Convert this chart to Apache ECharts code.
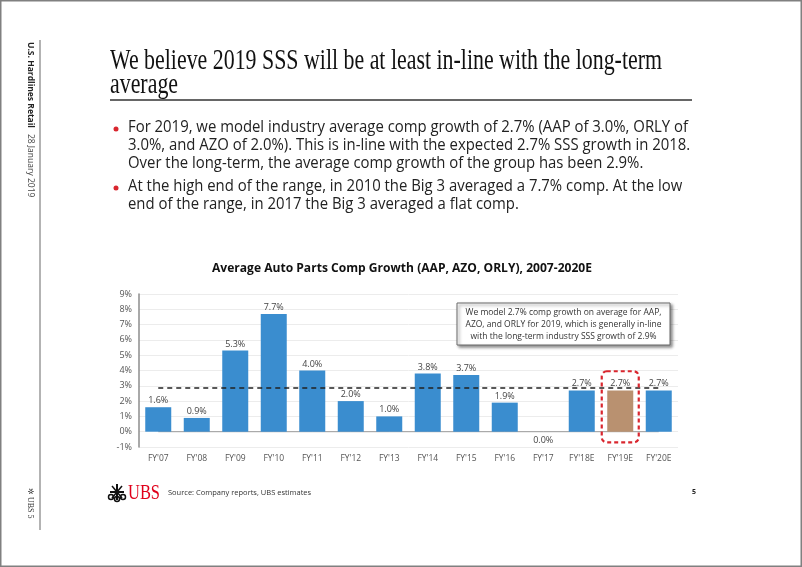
<!DOCTYPE html>
<html>
<head>
<meta charset="utf-8">
<script src="https://cdn.jsdelivr.net/npm/echarts@6/dist/echarts.min.js"></script>
<style>
html,body{margin:0;padding:0;background:#fff;}
#c{width:802px;height:567px;}
</style>
</head>
<body>
<div id="c"></div>
<script>
// ---- data ----
const categories = ["FY'07","FY'08","FY'09","FY'10","FY'11","FY'12","FY'13","FY'14","FY'15","FY'16","FY'17","FY'18E","FY'19E","FY'20E"];
const compGrowth = [1.6, 0.9, 5.3, 7.7, 4.0, 2.0, 1.0, 3.8, 3.7, 1.9, 0.0, 2.7, 2.7, 2.7];
const highlightCategory = "FY'19E";
const longTermAverage = [2.9];
const yTicks = [-1, 0, 1, 2, 3, 4, 5, 6, 7, 8, 9];

const pageTitle = ["We believe 2019 SSS will be at least in-line with the long-term", "average"];
const bullet1 = ["For 2019, we model industry average comp growth of 2.7% (AAP of 3.0%, ORLY of",
                 "3.0%, and AZO of 2.0%). This is in-line with the expected 2.7% SSS growth in 2018.",
                 "Over the long-term, the average comp growth of the group has been 2.9%."];
const bullet2 = ["At the high end of the range, in 2010 the Big 3 averaged a 7.7% comp. At the low",
                 "end of the range, in 2017 the Big 3 averaged a flat comp."];
const chartTitle = "Average Auto Parts Comp Growth (AAP, AZO, ORLY), 2007-2020E";
const noteLines = ["We model 2.7% comp growth on average for AAP,",
                   "AZO, and ORLY for 2019, which is generally in-line",
                   "with the long-term industry SSS growth of 2.9%"];
const sourceText = "Source: Company reports, UBS estimates";

// ---- helpers ----
const mctx = document.createElement('canvas').getContext('2d');
function measure(text, font){ mctx.font = font; return mctx.measureText(text).width; }

const BLUE = '#3A8DCF', BROWN = '#B99170', RED = '#D9262E';
const SANS = '"Open Sans", "Noto Sans", sans-serif';
const SERIF = '"Liberation Serif", "DejaVu Serif", serif';

const chart = echarts.init(document.getElementById('c'), null, {renderer:'canvas'});

const barData = compGrowth.map((v,i)=>({
  value: v,
  itemStyle: {color: categories[i]===highlightCategory ? BROWN : BLUE},
  label: v===0 ? {position:'bottom', distance:4} : undefined
}));

// title scaling
const titleFont = '29px ' + SERIF;
const titleScale = 552 / measure(pageTitle[0], '29px "Liberation Serif"');
const bodyFontSize = 15.5;
const bodyScale = 560 / measure(bullet1[0], bodyFontSize + 'px "Open Sans"');
const ctFont = 'bold 13px "Open Sans"';
const ctScale = 380 / measure(chartTitle, ctFont);
const noteFont = '9px "Open Sans"';
const noteScale = 196 / measure(noteLines[1], noteFont);
const ubsFont = '21px "Liberation Serif"';
const ubsScale = 32 / measure('UBS', ubsFont);

const graphics = [];
// page border
graphics.push({type:'rect', shape:{x:0.75,y:0.75,width:800.5,height:565.5}, style:{fill:'none', stroke:'#808080', lineWidth:1.5}, silent:true});
// left vertical rule
graphics.push({type:'line', shape:{x1:40,y1:40,x2:40,y2:530}, style:{stroke:'#9a9a9a', lineWidth:1.5}});
// left vertical texts
const lvFontB = 'bold 8.5px ' + SANS, lvFont = '8.5px ' + SANS;
const lvW = measure('U.S. Hardlines Retail', 'bold 8.5px "Open Sans"');
graphics.push({type:'text', x:30, y:42, rotation:-Math.PI/2, style:{text:'U.S. Hardlines Retail', font:lvFontB, fill:'#222', textVerticalAlign:'middle'}});
graphics.push({type:'text', x:30, y:42 + lvW + 6, rotation:-Math.PI/2, style:{text:'28 January 2019', font:lvFont, fill:'#444', textVerticalAlign:'middle'}});
graphics.push({type:'text', x:30, y:497, rotation:-Math.PI/2, style:{text:'UBS 5', font:'8px ' + SERIF, fill:'#333', textVerticalAlign:'middle'}});
graphics.push({type:'text', x:30, y:491, rotation:-Math.PI/2, style:{text:'✲', font:'8px ' + SANS, fill:'#333', textVerticalAlign:'middle', textAlign:'center'}});

// page title
pageTitle.forEach((t,i)=>{
  graphics.push({type:'text', x:110, y:61 + i*24, scaleX:titleScale, style:{text:t, font:titleFont, fill:'#111', textVerticalAlign:'middle'}});
});
graphics.push({type:'line', shape:{x1:110,y1:100,x2:692,y2:100}, style:{stroke:'#333', lineWidth:1.5}});

// bullets
function addBullet(lines, y0){
  graphics.push({type:'circle', shape:{cx:116, cy:y0+1, r:2.5}, style:{fill:RED}});
  lines.forEach((t,i)=>{
    graphics.push({type:'text', x:128, y:y0 + i*18, scaleX:bodyScale, style:{text:t, font: bodyFontSize + 'px ' + SANS, fill:'#222', textVerticalAlign:'middle'}});
  });
}
addBullet(bullet1, 128);
addBullet(bullet2, 187);

// chart title
graphics.push({type:'text', x:402 - 190, y:268, scaleX:ctScale, style:{text:chartTitle, font:'bold 13px ' + SANS, fill:'#111', textVerticalAlign:'middle'}});

// note box
graphics.push({type:'rect', z:100, shape:{x:457,y:303,width:213,height:42}, style:{fill:'#fff', stroke:'#6a6a6a', lineWidth:1, shadowBlur:3, shadowOffsetX:2, shadowOffsetY:2, shadowColor:'rgba(0,0,0,0.45)'}});
noteLines.forEach((t,i)=>{
  graphics.push({type:'text', z:101, x:563.5, y:312 + i*12, scaleX:noteScale, style:{text:t, font:'9px ' + SANS, fill:'#333', textAlign:'center', textVerticalAlign:'middle'}});
});

// footer logo + source
graphics.push({type:'text', x:128, y:493, scaleX:ubsScale, style:{text:'UBS', font:ubsFont, fill:'#E0001A', textVerticalAlign:'middle'}});
// simple key-symbol logo
graphics.push({type:'group', x:117, y:492, children:[
  {type:'line', shape:{x1:-7,y1:0,x2:7,y2:0}, style:{stroke:'#111', lineWidth:2}},
  {type:'line', shape:{x1:0,y1:-8,x2:0,y2:8}, style:{stroke:'#111', lineWidth:2}},
  {type:'line', shape:{x1:-5,y1:-6,x2:5,y2:6}, style:{stroke:'#111', lineWidth:1.5}},
  {type:'line', shape:{x1:5,y1:-6,x2:-5,y2:6}, style:{stroke:'#111', lineWidth:1.5}},
  {type:'circle', shape:{cx:-6,cy:5,r:2.5}, style:{fill:'none', stroke:'#111', lineWidth:1.5}},
  {type:'circle', shape:{cx:6,cy:5,r:2.5}, style:{fill:'none', stroke:'#111', lineWidth:1.5}},
  {type:'circle', shape:{cx:0,cy:7,r:2.5}, style:{fill:'none', stroke:'#111', lineWidth:1.5}}
]});
graphics.push({type:'text', x:168, y:493, style:{text:sourceText, font:'7.5px ' + SANS, fill:'#333', textVerticalAlign:'middle'}});
graphics.push({type:'text', x:692, y:492, style:{text:'5', font:'bold 7px ' + SANS, fill:'#222', textVerticalAlign:'middle'}});

const option = {
  animation:false,
  backgroundColor:'#fff',
  grid:{left:139, right:124, top:294, bottom:120, containLabel:false},
  xAxis:{
    type:'category', data:categories,
    axisLine:{show:false}, axisTick:{show:false},
    axisLabel:{color:'#555', fontSize:8.5, fontFamily:SANS, interval:0, margin:7, verticalAlign:'top'},
    position:'bottom'
  },
  yAxis:{
    type:'value', min:yTicks[0], max:yTicks[yTicks.length-1], interval:1,
    axisLine:{show:true, lineStyle:{color:'#8c8c8c', width:1.5}},
    axisTick:{show:false},
    axisLabel:{formatter:'{value}%', color:'#555', fontSize:9, fontFamily:SANS, margin:7},
    splitLine:{show:true, lineStyle:{color:'#ececec', width:1}}
  },
  series:[{
    type:'bar', data:barData, barWidth:26,
    label:{show:true, position:'top', distance:2, formatter:p=>p.value.toFixed(1)+'%', color:'#444', fontSize:9, fontFamily:SANS},
    markLine:{
      silent:true, symbol:'none', label:{show:false},
      lineStyle:{color:'#222', type:[5,4], width:1.5},
      data:[[{coord:[categories[0], longTermAverage[0]]},{coord:[categories[categories.length-1], longTermAverage[0]]}]]
    }
  },{
    // zero baseline
    type:'line', data:categories.map(()=>0), symbol:'none', silent:true,
    lineStyle:{color:'#9a9a9a', width:1}, z:1
  }],
  graphic:graphics
};
chart.setOption(option);

// red dashed highlight around the highlighted bar, derived from axes
const hx = chart.convertToPixel({gridIndex:0}, [highlightCategory, 0])[0];
const yTop = chart.convertToPixel({gridIndex:0}, [highlightCategory, 3.95])[1];
const yBot = chart.convertToPixel({gridIndex:0}, [highlightCategory, -0.7])[1];
graphics.push({type:'rect', shape:{x:hx-18.5, y:yTop, width:37, height:yBot-yTop, r:5}, style:{fill:'none', stroke:RED, lineWidth:2.2, lineDash:[4,3]}, z:10});
chart.setOption({graphic:graphics});
</script>
</body>
</html>
